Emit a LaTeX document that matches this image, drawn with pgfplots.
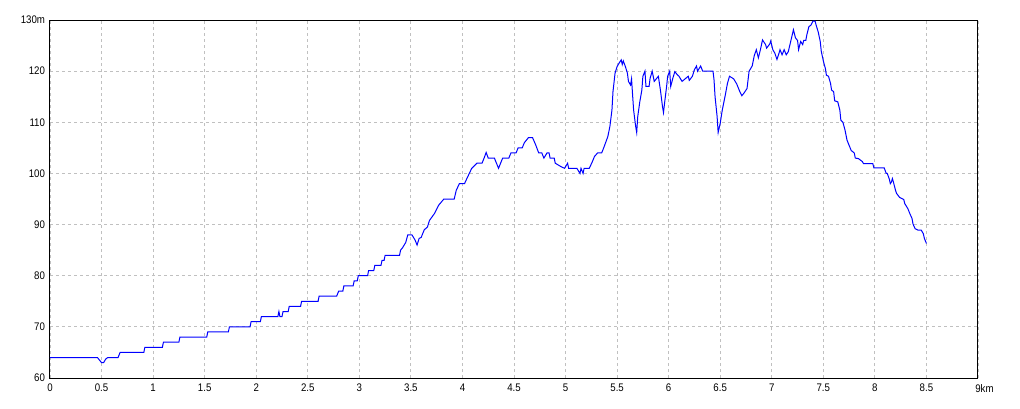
\documentclass[border=0pt]{standalone}
\usepackage{pgfplots}
\pgfplotsset{compat=1.18}
\usepackage{fontspec}
\setmainfont{Liberation Sans}[FakeStretch=0.88]
\definecolor{gridgray}{HTML}{C0C0C0}
\begin{document}
\begin{tikzpicture}
\useasboundingbox (-50pt,-30pt) rectangle (970pt,378pt);
\begin{axis}[
  at={(0pt,0pt)}, anchor=south west,
  scale only axis, width=928pt, height=358pt,
  xmin=0, xmax=9, ymin=60, ymax=130,
  xtick={0,0.5,1,1.5,2,2.5,3,3.5,4,4.5,5,5.5,6,6.5,7,7.5,8,8.5,9},
  xticklabels={0,0.5,1,1.5,2,2.5,3,3.5,4,4.5,5,5.5,6,6.5,7,7.5,8,8.5,9\rlap{km}},
  ytick={60,70,80,90,100,110,120,130},
  yticklabels={60,70,80,90,100,110,120,130m},
  major tick length=0pt,
  tick label style={font=\fontsize{11}{13}\selectfont},
  /pgf/number format/assume math mode=true,
  xticklabel style={yshift=-2.5pt},
  yticklabel style={xshift=-1.5pt},
  grid=major,
  major grid style={gridgray, line width=0.8pt, dash pattern=on 3pt off 3pt},
  axis line style={black, line width=1pt},
  axis on top=false,
]
\addplot[blue, line width=1pt] coordinates {
(0,64) (0.46,64) (0.48,63.5) (0.50,63) (0.52,63) (0.54,63.7) (0.56,64) (0.66,64) (0.67,64.5) (0.68,65) (0.91,65) (0.92,66) (1.09,66) (1.10,67) (1.25,67) (1.26,68) (1.52,68) (1.53,69) (1.73,69) (1.74,70) (1.94,70) (1.95,71) (2.04,71) (2.05,72) (2.21,72) (2.22,73) (2.23,72) (2.25,72) (2.26,73) (2.31,73) (2.32,74) (2.43,74) (2.44,75) (2.60,75) (2.61,76) (2.78,76) (2.79,76.5) (2.80,77) (2.84,77) (2.85,78) (2.94,78) (2.95,79) (2.98,79) (2.99,80) (3.08,80) (3.09,81) (3.14,81) (3.15,82) (3.21,82) (3.22,83) (3.24,83) (3.25,84) (3.39,84) (3.40,85) (3.42,85.5) (3.45,86.5) (3.47,88) (3.51,88) (3.54,87) (3.56,86) (3.58,87.3) (3.60,87.5) (3.63,89) (3.66,89.5) (3.68,90.8) (3.73,92.2) (3.77,93.8) (3.82,95) (3.92,95) (3.94,96.7) (3.97,98) (4.02,98) (4.05,99.3) (4.09,101) (4.14,102) (4.19,102) (4.21,103) (4.23,104.1) (4.25,103) (4.31,103) (4.35,101) (4.39,103) (4.45,103) (4.47,104) (4.52,104) (4.54,105) (4.58,105) (4.60,106) (4.64,107) (4.68,107) (4.71,105.6) (4.74,104) (4.77,104) (4.79,103) (4.82,104) (4.84,104) (4.85,103) (4.89,103) (4.90,102) (4.95,101.4) (4.99,101) (5.02,102) (5.03,101) (5.11,101) (5.14,100) (5.15,101) (5.17,100) (5.18,101) (5.23,101) (5.26,102.3) (5.28,103.3) (5.31,104) (5.35,104) (5.37,105) (5.41,107.2) (5.43,109.2) (5.45,112.4) (5.46,116) (5.48,119.6) (5.50,120.9) (5.52,121.6) (5.54,122.2) (5.55,121.3) (5.56,122) (5.58,120.9) (5.60,119.6) (5.61,118) (5.63,117.3) (5.64,118.5) (5.65,115.4) (5.66,112.4) (5.68,109.2) (5.69,108) (5.70,111.1) (5.72,114) (5.74,116.3) (5.75,119) (5.77,120) (5.78,117) (5.81,117) (5.82,118.6) (5.84,120) (5.86,118) (5.88,118.5) (5.90,119) (5.92,116.3) (5.94,113.1) (5.95,111.9) (5.96,113.7) (5.98,117) (5.99,119) (6.01,120) (6.02,117) (6.04,118.6) (6.06,119.9) (6.08,119.4) (6.10,119) (6.13,118) (6.16,118.5) (6.19,119) (6.20,118.2) (6.23,119) (6.25,120.3) (6.27,121) (6.28,120) (6.31,121) (6.33,120) (6.43,120) (6.44,118.3) (6.45,115) (6.47,111.1) (6.48,108) (6.50,109.8) (6.52,112.4) (6.55,115.4) (6.57,117.6) (6.59,119) (6.63,118.5) (6.66,117.5) (6.69,116) (6.71,115.2) (6.73,115.7) (6.76,116.6) (6.78,120) (6.81,121) (6.83,123) (6.85,124.2) (6.87,122.6) (6.89,124.2) (6.91,126.1) (6.94,125.2) (6.95,124.5) (6.98,125.3) (6.99,125.9) (7.01,124.2) (7.03,123.5) (7.05,122.3) (7.07,123.5) (7.08,124.2) (7.10,123.2) (7.12,124.2) (7.14,123.2) (7.16,123.8) (7.18,125.5) (7.21,128.1) (7.23,126.5) (7.25,126) (7.26,124.2) (7.28,125.8) (7.30,125.2) (7.31,126) (7.33,126) (7.34,127.1) (7.36,128.7) (7.38,129) (7.40,129.8) (7.42,129.8) (7.43,129) (7.45,127.7) (7.47,125.8) (7.48,123.9) (7.50,122) (7.52,120.5) (7.53,119.2) (7.55,119) (7.57,117.6) (7.58,116.3) (7.60,116) (7.61,114.2) (7.64,114) (7.66,112.4) (7.67,110.4) (7.69,110) (7.71,108.5) (7.73,106.5) (7.75,105.5) (7.77,104.5) (7.80,104) (7.81,103) (7.84,102.9) (7.88,102.3) (7.89,101.9) (7.98,101.9) (7.99,101.1) (8.09,101.1) (8.11,100) (8.12,100) (8.14,98.9) (8.15,98) (8.16,98.3) (8.17,99) (8.18,98.3) (8.20,96.7) (8.21,96.1) (8.24,95.3) (8.28,94.9) (8.29,94.1) (8.32,93.1) (8.34,92.1) (8.36,91.2) (8.37,90.1) (8.39,89.2) (8.42,88.9) (8.45,88.9) (8.47,88.2) (8.48,87.3) (8.50,86.3)
};
\end{axis}
\end{tikzpicture}
\end{document}
